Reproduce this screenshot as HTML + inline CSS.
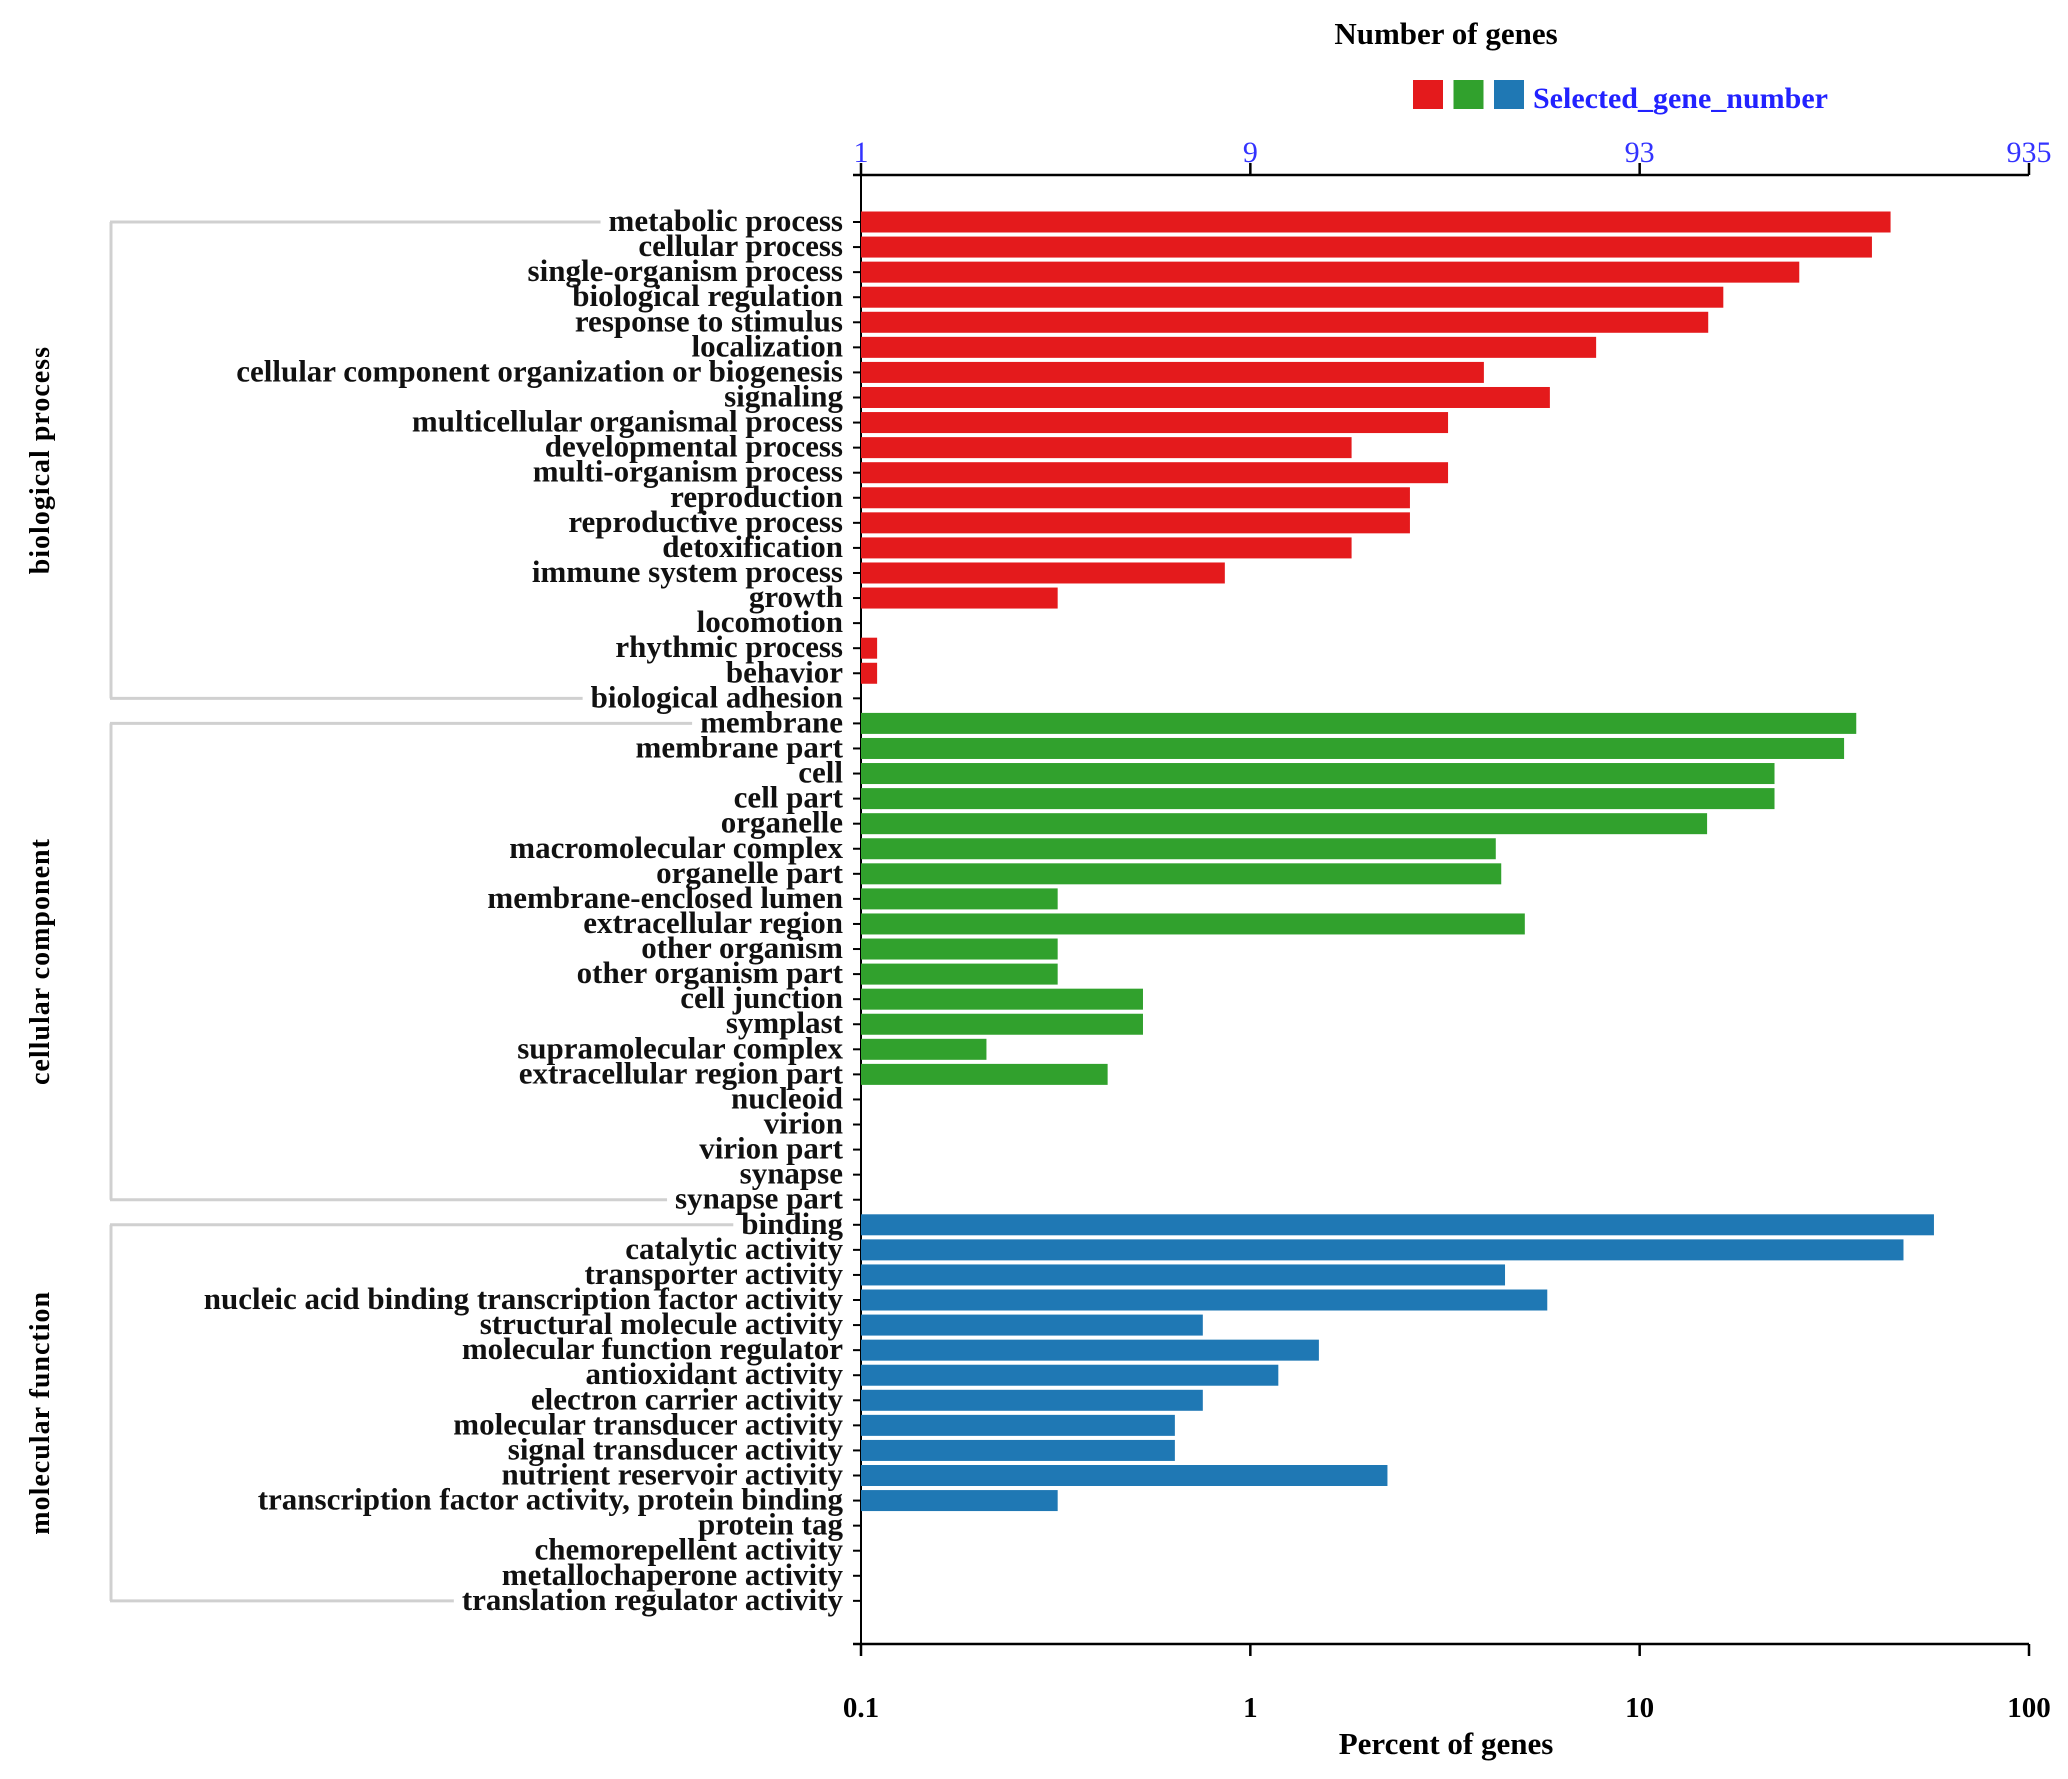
<!DOCTYPE html>
<html><head><meta charset="utf-8"><style>
html,body{margin:0;padding:0;background:#fff;}
svg{display:block;font-family:"Liberation Serif",serif;font-weight:bold;}
</style></head><body>
<svg id="chart" width="2068" height="1779" viewBox="0 0 2068 1779">
<g id="axes"></g><g id="bars"></g><g id="labels"></g><g id="brackets"></g>
</svg>
<script>
const bpTerms=["metabolic process","cellular process","single-organism process","biological regulation","response to stimulus","localization","cellular component organization or biogenesis","signaling","multicellular organismal process","developmental process","multi-organism process","reproduction","reproductive process","detoxification","immune system process","growth","locomotion","rhythmic process","behavior","biological adhesion"];
const bpValues=[44.1,39.5,25.7,16.4,15.0,7.73,3.98,5.88,3.22,1.82,3.22,2.57,2.57,1.82,0.86,0.32,0,0.11,0.11,0];
const ccTerms=["membrane","membrane part","cell","cell part","organelle","macromolecular complex","organelle part","membrane-enclosed lumen","extracellular region","other organism","other organism part","cell junction","symplast","supramolecular complex","extracellular region part","nucleoid","virion","virion part","synapse","synapse part"];
const ccValues=[36.0,33.5,22.2,22.2,14.9,4.27,4.41,0.32,5.07,0.32,0.32,0.53,0.53,0.21,0.43,0,0,0,0,0];
const mfTerms=["binding","catalytic activity","transporter activity","nucleic acid binding transcription factor activity","structural molecule activity","molecular function regulator","antioxidant activity","electron carrier activity","molecular transducer activity","signal transducer activity","nutrient reservoir activity","transcription factor activity, protein binding","protein tag","chemorepellent activity","metallochaperone activity","translation regulator activity"];
const mfValues=[57.0,47.6,4.51,5.79,0.755,1.50,1.18,0.755,0.64,0.64,2.25,0.32,0,0,0,0];
const groupNames=["biological process","cellular component","molecular function"];
const groupColors=["#e41a1c","#31a12d","#1f78b4"];
const percentTicks=[0.1,1,10,100];
const percentTickLabels=["0.1","1","10","100"];
const countTickLabels=["1","9","93","935"];

const NS="http://www.w3.org/2000/svg";
const X0=861,X1=2029,YT=175,YB=1644,ROW0=222,STEP=25.07,BH=21;
function x(p){return X0+(Math.log10(p)-Math.log10(0.1))/3*(X1-X0);}
function y(i){return ROW0+i*STEP;}
function mk(tag,attrs,parent){const e=document.createElementNS(NS,tag);for(const k in attrs)e.setAttribute(k,attrs[k]);parent.appendChild(e);return e;}
const axes=document.getElementById('axes'),bars=document.getElementById('bars'),labels=document.getElementById('labels'),br=document.getElementById('brackets');

let l=mk('line',{x1:X0-8,x2:X1,y1:YT,y2:YT,stroke:'#000','stroke-width':2.5},axes);


l=mk('line',{x1:X0-8,x2:X1,y1:YB,y2:YB,stroke:'#000','stroke-width':2.5},axes);


l=mk('line',{x1:X0,x2:X0,y1:YT,y2:YB+12,stroke:'#000','stroke-width':2},axes);


percentTicks.forEach((p,i)=>{
  let t=mk('line',{x1:x(p),x2:x(p),y1:YT-12,y2:YT,stroke:'#000','stroke-width':2.5},axes);
  
  
  t=mk('line',{x1:x(p),x2:x(p),y1:YB,y2:YB+12,stroke:'#000','stroke-width':2.5},axes);
  
  
  let tx=mk('text',{x:x(p),y:162,'text-anchor':'middle','font-size':30,fill:'#3333ff','font-weight':'normal'},axes);
  tx.textContent=countTickLabels[i];
  
  
  tx=mk('text',{x:x(p),y:1717,'text-anchor':'middle','font-size':29,fill:'#000'},axes);
  tx.textContent=percentTickLabels[i];
  
  
});
let tt=mk('text',{x:1446,y:44,'text-anchor':'middle','font-size':31},axes);tt.textContent='Number of genes';


tt=mk('text',{x:1446,y:1754,'text-anchor':'middle','font-size':31},axes);tt.textContent='Percent of genes';


groupColors.forEach((c,i)=>{
  const r=mk('rect',{x:1413+i*40.5,y:80,width:30,height:29,fill:c},axes);
  
  
});
tt=mk('text',{x:1533,y:108,'font-size':30,fill:'#2222ff'},axes);tt.textContent='Selected_gene_number';



const groups=[[bpTerms,bpValues],[ccTerms,ccValues],[mfTerms,mfValues]];
let idx=0;
groups.forEach((g,gi)=>{
  const start=idx;const lefts=[];
  g[0].forEach((term,j)=>{
    const v=g[1][j],yy=y(idx);
    if(v>0){const r=mk('rect',{x:X0,y:yy-BH/2,width:x(v)-X0,height:BH,fill:groupColors[gi]},bars);
      
      }
    const tk=mk('line',{x1:X0-8,x2:X0,y1:yy,y2:yy,stroke:'#000','stroke-width':2},axes);
    
    
    const t=mk('text',{x:X0-18,y:yy+9,'text-anchor':'end','font-size':31,fill:'#111'},labels);
    t.textContent=term;
    
    
    lefts.push(X0-18-t.getComputedTextLength());
    idx++;
  });
  const yA=y(start),yZ=y(idx-1);
  const col='#d0d0d0';
  let b=mk('line',{x1:111,x2:111,y1:yA,y2:yZ,stroke:col,'stroke-width':3},br);
  
  
  b=mk('line',{x1:110,x2:lefts[0]-8,y1:yA,y2:yA,stroke:col,'stroke-width':3},br);
  
  
  b=mk('line',{x1:110,x2:lefts[lefts.length-1]-8,y1:yZ,y2:yZ,stroke:col,'stroke-width':3},br);
  
  
  const cy=(yA+yZ)/2;
  const gt=mk('text',{x:0,y:0,'text-anchor':'middle','font-size':28,'letter-spacing':1,transform:`translate(49,${cy}) rotate(-90)`},br);
  gt.textContent=groupNames[gi];
  
  
});
</script>
</body></html>
